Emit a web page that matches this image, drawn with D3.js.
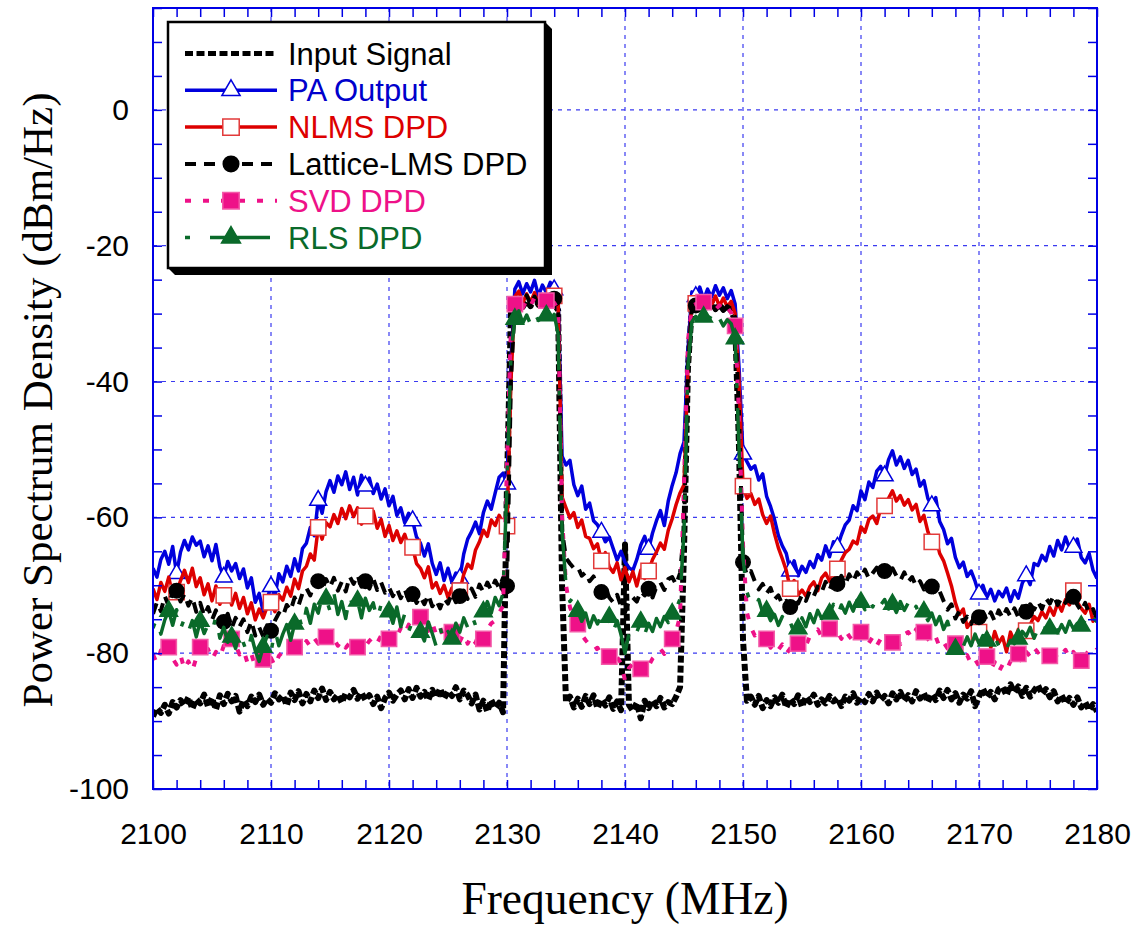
<!DOCTYPE html>
<html>
<head>
<meta charset="utf-8">
<script src="https://cdn.jsdelivr.net/npm/d3@7"></script>
<style>
  body { margin: 0; background: #fff; }
  svg { display: block; }
</style>
</head>
<body>
<svg id="chart" width="1141" height="928"></svg>
<script>
// Spectrum samples every 1/3 MHz from 2100 to 2180 MHz (241 points per trace), in dBm/Hz.
const freqStart = 2100, freqEnd = 2180, samplesPerMHz = 3;

const inputSignal = [
  -89.3,-88.1,-88.8, -87.6,-88.9,-87.2, -88.0,-86.9,-87.7, -86.5,-88.2,-86.8, -87.4,-86.1,-87.9,
  -86.6,-88.3,-86.2, -87.5,-86.0,-87.1, -86.3,-88.6,-86.9, -87.8,-86.4,-87.2, -86.1,-87.6,-86.7,
  -87.3,-85.9,-86.8, -86.2,-87.7,-85.8, -86.9,-85.6,-87.4, -86.0,-87.1,-85.5, -86.6,-85.2,-86.9,
  -85.7,-86.8,-86.1, -87.3,-85.9,-86.5, -85.4,-86.7,-85.8, -86.9,-86.2,-87.5, -86.4,-88.1,-86.6,
  -85.8,-87.0,-86.1, -85.5,-86.8,-85.3, -86.6,-85.1,-86.4, -85.7,-86.9,-85.4, -86.5,-85.2,-86.7,
  -85.6,-86.3,-85.0, -86.8,-85.5,-86.2, -87.4,-86.1,-88.3, -87.0,-88.6,-86.9, -88.1,-87.3,-88.7,
  -55.0,-30.0,-28.4, -27.8,-29.0,-28.1, -28.9,-27.6,-28.7, -28.0,-29.1,-28.3, -28.6,-29.5,-70.0,
  -87.2,-86.4,-88.0, -86.7,-87.9,-86.3, -87.5,-86.2,-88.1, -86.8,-87.7,-86.5, -88.2,-87.1,-88.4,
  -64.0,-87.6,-88.5, -87.3,-89.6,-87.0, -88.1,-86.9,-87.8, -86.6,-88.0,-87.2, -87.5,-86.4,-85.0,
  -65.0,-38.0,-29.0, -28.4,-29.2,-28.6, -29.0,-28.3,-29.3, -28.7,-29.4,-28.9, -29.6,-31.0,-50.0,
  -78.0,-87.0,-86.4, -87.6,-86.3,-88.1, -86.9,-87.8,-86.5, -87.3,-86.1,-88.0, -86.7,-87.5,-86.2,
  -87.9,-86.4,-87.2, -86.1,-87.6,-86.8, -87.4,-86.3,-87.1, -86.6,-87.8,-86.4, -87.0,-85.9,-87.3,
  -86.5,-87.2,-86.0, -87.1,-85.8,-86.9, -86.3,-87.4,-85.9, -86.8,-85.7,-87.0, -86.2,-87.1,-85.6,
  -86.7,-85.9,-87.2, -86.0,-86.9,-85.5, -86.6,-85.4,-86.8, -85.9,-87.3,-86.1, -86.7,-85.6,-87.8,
  -86.4,-85.2,-86.5, -85.7,-86.8,-85.3, -85.0,-86.2,-84.6, -85.8,-84.9,-86.3, -85.1,-86.4,-85.5,
  -84.7,-86.0,-85.3, -86.5,-85.6,-87.1, -86.2,-87.4,-86.6, -87.6,-86.5,-88.0, -87.2,-88.4,-87.5,
  -88.6
];

const paOutput = [
  -67.5,-68.8,-66.2, -65.0,-66.9,-64.3, -68.3,-65.1,-63.4, -64.8,-62.9,-64.1, -63.5,-65.8,-64.2,
  -66.4,-64.0,-67.3, -68.8,-66.5,-67.9, -66.8,-69.0,-67.6, -70.4,-68.9,-72.5, -71.2,-73.9,-72.0,
  -70.2,-71.6,-68.3, -69.5,-67.2,-68.7, -66.1,-67.9,-64.6, -63.8,-61.5,-62.7, -57.5,-59.4,-56.2,
  -54.6,-56.3,-53.9, -55.2,-53.3,-55.9, -54.1,-56.7,-53.8, -55.4,-54.2,-56.5, -55.1,-57.3,-55.8,
  -58.3,-56.9,-59.7, -58.6,-60.8,-59.4, -60.5,-62.9,-63.8, -65.7,-63.9,-66.8, -68.4,-66.7,-69.3,
  -67.5,-69.6,-68.2, -69.0,-65.4,-63.2, -62.1,-60.7,-62.4, -59.3,-57.6,-58.8, -56.4,-54.1,-53.5,
  -55.1,-37.0,-26.4, -25.3,-27.1,-25.6, -26.8,-25.1,-27.4, -25.8,-26.9,-25.4, -26.5,-27.6,-51.0,
  -52.3,-51.6,-55.2, -56.8,-55.4,-58.8, -57.9,-60.5,-61.1, -62.2,-63.6,-62.9, -64.6,-66.3,-65.0,
  -66.6,-67.4,-67.8, -66.2,-64.1,-62.8, -64.7,-62.3,-60.5, -59.0,-61.2,-57.6, -55.3,-53.4,-50.6,
  -48.9,-35.5,-26.8, -27.5,-26.1,-27.9, -26.4,-27.6,-25.9, -27.3,-26.2,-27.8, -26.6,-28.6,-38.0,
  -50.7,-51.8,-52.9, -52.4,-54.5,-53.6, -56.9,-58.4,-60.3, -62.7,-64.2,-65.3, -67.9,-66.4,-68.6,
  -67.2,-68.1,-66.5, -67.4,-65.5,-66.3, -64.2,-65.8,-63.6, -64.4,-62.6,-61.1, -60.4,-58.3,-59.0,
  -56.1,-57.4,-54.8, -55.6,-53.2,-52.5, -53.9,-51.5,-50.2, -52.3,-51.1,-52.8, -51.6,-53.7,-52.9,
  -55.4,-54.6,-57.2, -58.3,-57.1,-60.6, -61.8,-63.9,-63.1, -65.9,-67.4,-66.6, -68.7,-67.9,-69.4,
  -71.3,-70.0,-71.8, -70.6,-72.3,-70.9, -71.7,-70.4,-72.4, -70.8,-71.9,-69.7, -68.6,-69.9,-66.8,
  -67.1,-65.6,-66.4, -64.3,-65.7,-63.4, -64.8,-62.9,-64.5, -64.4,-63.2,-65.9, -66.7,-65.3,-67.8,
  -69.0
];

const nlmsDpd = [
  -70.5,-72.1,-69.6, -70.9,-68.8,-71.5, -71.0,-69.3,-67.8, -69.6,-67.5,-70.2, -68.9,-71.4,-69.8,
  -72.3,-70.1,-72.8, -71.5,-70.6,-72.9, -71.2,-73.4,-71.8, -74.2,-72.6,-75.1, -73.5,-74.8,-73.2,
  -72.5,-73.9,-71.4, -72.2,-70.3,-71.6, -69.1,-70.5,-67.9, -67.2,-65.4,-66.3, -61.5,-63.2,-60.8,
  -61.4,-59.6,-60.9, -58.7,-60.2,-58.3, -59.9,-58.6,-61.0, -59.8,-60.7,-59.1, -61.6,-60.3,-62.8,
  -61.2,-63.4,-62.0, -63.7,-62.5,-64.3, -64.4,-66.8,-67.5, -68.9,-67.3,-70.4, -69.6,-71.2,-70.0,
  -71.8,-70.4,-72.3, -70.8,-68.4,-66.9, -67.5,-64.8,-63.6, -61.9,-62.8,-60.4, -61.2,-59.7,-60.8,
  -61.3,-40.0,-27.5, -26.7,-28.4,-27.1, -28.3,-26.9,-28.6, -27.2,-28.5,-27.0, -27.4,-28.3,-57.0,
  -58.6,-60.1,-59.3, -61.5,-60.4,-62.8, -63.1,-64.6,-63.9, -66.4,-65.2,-67.3, -68.1,-66.7,-69.2,
  -67.4,-69.5,-68.0, -70.1,-67.8,-69.0, -67.9,-66.2,-65.1, -63.8,-64.7,-61.9, -60.2,-58.1,-56.4,
  -55.2,-38.0,-28.0, -28.5,-27.6,-29.1, -27.9,-28.8,-27.4, -28.9,-27.7,-29.0, -28.2,-30.0,-40.0,
  -55.4,-57.2,-56.5, -58.1,-57.3,-59.6, -60.9,-59.8,-62.4, -64.5,-66.1,-67.8, -70.5,-69.3,-71.4,
  -70.7,-71.6,-70.2, -69.5,-70.8,-68.9, -68.2,-69.4,-67.7, -67.6,-66.3,-65.2, -64.7,-63.5,-63.9,
  -61.4,-62.2,-60.3, -59.8,-60.9,-58.7, -58.3,-57.2,-56.1, -57.6,-56.8,-58.2, -57.4,-58.9,-58.1,
  -60.6,-59.7,-62.1, -63.6,-62.9,-65.3, -66.4,-68.2,-70.1, -72.6,-74.3,-73.5, -76.2,-75.4,-77.3,
  -76.9,-78.1,-77.0, -79.2,-76.8,-78.5, -77.6,-79.8,-76.9, -78.3,-76.5,-77.8, -76.7,-75.8,-74.6,
  -75.2,-73.9,-74.8, -73.3,-74.4,-72.6, -73.8,-72.1,-72.9, -70.8,-72.5,-73.4, -74.1,-72.8,-75.3,
  -74.2
];

const latticeLmsDpd = [
  -74.2,-72.5,-73.8, -71.6,-73.1,-70.9, -70.8,-72.4,-71.3, -73.0,-71.8,-73.9, -72.6,-74.5,-73.2,
  -75.1,-73.7,-76.0, -75.4,-74.2,-76.3, -74.8,-76.1,-75.0, -76.9,-75.3,-77.4, -76.2,-77.5,-75.9,
  -76.7,-75.2,-74.1, -74.6,-72.9,-73.7, -71.8,-73.0,-71.2, -70.4,-71.5,-69.8, -69.4,-70.6,-69.1,
  -70.3,-68.9,-70.8, -69.5,-70.9,-68.7, -69.8,-68.5,-70.2, -69.4,-70.5,-69.0, -70.7,-69.6,-71.1,
  -70.3,-71.6,-70.5, -71.9,-70.6,-72.2, -71.3,-72.6,-71.7, -72.8,-71.4,-73.1, -72.2,-73.4,-71.9,
  -72.7,-71.2,-72.5, -71.6,-70.8,-72.0, -70.5,-71.7,-69.9, -71.0,-69.6,-70.7, -69.3,-70.4,-68.9,
  -70.1,-40.0,-28.4, -27.6,-28.9,-27.3, -28.7,-27.5,-28.8, -27.6,-28.9,-27.9, -27.8,-29.0,-62.0,
  -66.0,-66.8,-67.5, -67.3,-68.6,-68.1, -69.4,-68.7,-70.2, -71.0,-70.3,-71.8, -72.5,-71.4,-73.1,
  -74.0,-72.3,-71.8, -72.4,-70.9,-71.5, -70.5,-71.8,-70.2, -69.6,-70.7,-69.1, -68.8,-69.9,-68.2,
  -62.0,-38.0,-29.3, -28.8,-29.4,-28.6, -29.2,-28.4,-29.5, -28.7,-29.6,-28.9, -29.3,-30.5,-45.0,
  -66.6,-68.5,-67.9, -69.4,-70.6,-69.8, -71.2,-70.4,-72.1, -71.5,-72.8,-72.3, -73.2,-72.1,-72.7,
  -71.4,-72.3,-70.8, -71.6,-70.2,-71.0, -69.5,-70.7,-69.2, -69.8,-68.6,-69.9, -68.4,-69.5,-68.1,
  -68.9,-67.7,-69.0, -68.2,-67.4,-68.8, -67.9,-68.7,-67.5, -68.6,-69.3,-68.1, -69.5,-68.8,-70.1,
  -69.4,-70.6,-69.8, -70.2,-71.5,-70.9, -72.3,-73.6,-72.8, -74.9,-73.8,-75.4, -74.6,-75.7,-74.3,
  -74.7,-73.9,-75.2, -74.0,-75.3,-73.7, -74.8,-73.5,-74.6, -73.4,-74.7,-73.1, -73.9,-72.8,-73.6,
  -72.4,-73.5,-71.9, -72.7,-71.5,-72.9, -71.8,-72.6,-71.3, -71.7,-72.9,-73.8, -72.6,-74.1,-73.5,
  -75.0
];

const svdDpd = [
  -80.2,-81.5,-79.6, -80.4,-79.1,-80.8, -81.7,-80.3,-82.4, -81.2,-82.6,-80.7, -79.1,-80.5,-79.4,
  -80.9,-79.8,-80.6, -78.9,-79.6,-77.9, -78.8,-80.2,-79.5, -81.4,-80.1,-82.0, -81.3,-80.9,-81.6,
  -80.7,-81.9,-80.4, -79.8,-80.6,-79.3, -79.1,-78.4,-79.7, -78.2,-79.0,-77.8, -78.6,-77.3,-77.6,
  -78.4,-77.9,-78.9, -78.1,-79.2,-78.5, -79.5,-79.1,-78.3, -79.0,-78.2,-77.6, -78.5,-77.4,-78.1,
  -77.9,-76.8,-77.5, -76.3,-77.2,-75.8, -76.5,-75.4,-74.7, -75.9,-76.7,-75.5, -77.3,-76.2,-77.8,
  -76.6,-76.9,-77.7, -78.3,-77.1,-78.6, -77.4,-78.5,-76.9, -77.9,-76.5,-75.6, -75.2,-74.1,-73.0,
  -52.0,-32.0,-28.6, -27.9,-29.2,-28.0, -28.8,-27.7,-29.0, -28.3,-28.1,-28.9, -28.4,-29.4,-60.0,
  -70.0,-73.2,-74.8, -75.7,-77.3,-78.1, -78.8,-79.6,-79.2, -80.3,-79.7,-80.5, -81.2,-80.6,-81.5,
  -84.0,-82.2,-81.6, -82.7,-82.3,-81.4, -81.9,-80.8,-80.2, -79.4,-80.1,-78.6, -77.9,-76.8,-74.5,
  -55.0,-34.0,-28.9, -28.6,-29.3,-28.3, -29.0,-28.5,-29.4, -28.8,-29.6,-29.1, -29.9,-31.8,-45.0,
  -64.0,-74.0,-76.2, -77.4,-76.5,-78.1, -77.9,-79.2,-78.4, -79.5,-78.7,-80.1, -79.3,-78.2,-78.6,
  -77.8,-78.9,-77.5, -77.1,-76.5,-77.6, -77.0,-76.4,-77.2, -76.8,-77.9,-76.6, -77.5,-78.2,-76.9,
  -76.9,-77.8,-78.5, -77.6,-78.9,-77.9, -78.6,-77.5,-78.4, -77.8,-78.7,-77.2, -76.9,-77.8,-76.5,
  -77.4,-76.9,-77.9, -78.5,-77.6,-79.1, -78.4,-79.3,-78.8, -78.6,-79.7,-80.8, -80.3,-81.6,-80.9,
  -81.9,-81.2,-80.5, -82.4,-81.3,-82.8, -81.7,-82.5,-81.2, -80.6,-80.1,-81.4, -79.8,-80.5,-79.2,
  -79.9,-78.8,-80.3, -80.4,-79.6,-80.9, -80.2,-79.5,-80.7, -79.8,-80.6,-81.1, -80.3,-79.6,-80.1,
  -79.4
];

const rlsDpd = [
  -76.3,-74.8,-77.2, -75.1,-73.8,-75.9, -73.6,-76.4,-74.9, -76.8,-75.2,-77.6, -75.3,-77.1,-75.8,
  -76.9,-74.6,-77.8, -76.2,-78.4,-77.6, -79.3,-76.8,-78.5, -80.1,-77.4,-79.6, -81.2,-79.1,-77.5,
  -79.8,-76.6,-78.9, -77.2,-75.8,-78.1, -75.7,-74.3,-76.5, -73.4,-75.6,-72.8, -74.1,-71.6,-72.0,
  -73.8,-71.2,-74.3, -72.4,-74.9,-71.5, -73.6,-72.3,-74.8, -71.9,-73.7,-72.6, -75.1,-72.8,-74.4,
  -73.9,-75.6,-73.2, -76.1,-74.2,-76.8, -75.3,-77.5,-76.9, -78.2,-75.4,-77.1, -79.0,-76.3,-78.4,
  -76.8,-77.9,-75.6, -76.9,-74.8,-76.2, -74.3,-75.9,-73.6, -73.9,-72.4,-74.1, -71.8,-73.0,-71.2,
  -55.0,-36.0,-30.8, -29.6,-31.4,-30.2, -31.6,-29.9,-31.0, -30.6,-30.3,-31.2, -30.1,-33.0,-62.0,
  -70.0,-72.4,-71.6, -73.8,-75.3,-74.1, -76.2,-74.5,-75.7, -74.4,-76.0,-74.7, -76.8,-75.2,-77.3,
  -80.0,-77.1,-75.8, -76.9,-75.4,-77.2, -75.6,-76.8,-74.9, -76.1,-74.6,-75.5, -74.2,-73.5,-72.0,
  -62.0,-38.0,-31.2, -30.4,-31.5,-30.5, -31.3,-30.2,-31.6, -30.7,-31.8,-30.9, -31.5,-33.7,-50.0,
  -66.0,-71.0,-72.6, -73.4,-72.1,-74.0, -73.8,-75.2,-74.3, -75.9,-74.6,-76.3, -75.4,-77.0,-76.4,
  -74.8,-76.1,-74.2, -75.5,-73.7,-74.9, -73.4,-74.2,-72.8, -74.6,-72.9,-74.1, -72.5,-73.8,-72.2,
  -72.5,-73.6,-71.8, -73.2,-71.6,-72.9, -72.1,-73.5,-72.8, -74.0,-72.4,-73.7, -72.6,-74.3,-73.1,
  -74.5,-73.9,-75.2, -74.1,-75.8,-74.6, -76.5,-75.3,-77.4, -79.4,-77.8,-79.0, -77.6,-78.9,-77.2,
  -78.6,-77.4,-78.2, -79.1,-77.6,-78.9, -77.9,-79.3,-78.1, -78.6,-77.9,-76.8, -77.5,-76.2,-77.8,
  -76.4,-77.6,-75.9, -76.4,-75.5,-77.0, -75.8,-76.9,-75.3, -76.4,-75.6,-76.0, -75.2,-76.3,-74.8,
  -75.4
];

const xTickValues = [2100, 2110, 2120, 2130, 2140, 2150, 2160, 2170, 2180];
const yTickValues = [-100, -80, -60, -40, -20, 0];
const legendLabels = ["Input Signal", "PA Output", "NLMS DPD", "Lattice-LMS DPD", "SVD DPD", "RLS DPD"];

const frequencies = d3.range((freqEnd - freqStart) * samplesPerMHz + 1)
  .map(i => freqStart + i / samplesPerMHz);

// Per-trace drawing styles; markers sit on every `step`-th sample starting at `start`.
const traces = [
  { label: legendLabels[0], values: inputSignal, color: "#000000", text: "#000000", width: 6, dash: "7,3", marker: null },
  { label: legendLabels[1], values: paOutput, color: "#0000dd", text: "#0000cc", width: 3.5, dash: null,
    marker: { type: d3.symbolTriangle, size: 125, fill: "#ffffff", stroke: "#0000dd", start: 6, step: 12 } },
  { label: legendLabels[2], values: nlmsDpd, color: "#dd0000", text: "#dd0000", width: 3.5, dash: null,
    marker: { type: d3.symbolSquare, size: 235, fill: "#ffffff", stroke: "#e23a3a", start: 6, step: 12 } },
  { label: legendLabels[3], values: latticeLmsDpd, color: "#000000", text: "#000000", width: 4, dash: "11,8",
    marker: { type: d3.symbolCircle, size: 165, fill: "#000000", stroke: "#000000", start: 6, step: 12 } },
  { label: legendLabels[4], values: svdDpd, color: "#ee1188", text: "#ee1188", width: 4, dash: "6,12",
    marker: { type: d3.symbolSquare, size: 235, fill: "#ee1188", stroke: "#f35aa8", start: 4, step: 8 } },
  { label: legendLabels[5], values: rlsDpd, color: "#0a6a2a", text: "#0a6a2a", width: 3.5, dash: "5,20,60,20",
    marker: { type: d3.symbolTriangle, size: 135, fill: "#0a6a2a", stroke: "#0a6a2a", start: 4, step: 8 } }
];

const svg = d3.select("#chart");
const plot = { left: 153, right: 1097, top: 8, bottom: 789 };

const x = d3.scaleLinear().domain([2100, 2180]).range([plot.left, plot.right]);
const y = d3.scaleLinear().domain([-100, 15]).range([plot.bottom, plot.top]);

const frameBlue = "#0000e6";
const gridBlue = "#3a3af0";

// Dotted grid
const grid = svg.append("g");
grid.selectAll("line.vg")
  .data(xTickValues.filter(v => v > 2100 && v < 2180))
  .join("line")
  .attr("x1", d => x(d)).attr("x2", d => x(d))
  .attr("y1", plot.top).attr("y2", plot.bottom)
  .attr("stroke", gridBlue).attr("stroke-width", 1.2)
  .attr("stroke-dasharray", "4,5");
grid.selectAll("line.hg")
  .data(yTickValues.filter(v => v > -100))
  .join("line")
  .attr("x1", plot.left).attr("x2", plot.right)
  .attr("y1", d => y(d)).attr("y2", d => y(d))
  .attr("stroke", gridBlue).attr("stroke-width", 1.2)
  .attr("stroke-dasharray", "4,5");

// Traces
svg.append("defs").append("clipPath").attr("id", "plotClip")
  .append("rect")
  .attr("x", plot.left).attr("y", plot.top)
  .attr("width", plot.right - plot.left).attr("height", plot.bottom - plot.top);

const line = d3.line()
  .x(d => x(d[0]))
  .y(d => y(d[1]));

const dataLayer = svg.append("g").attr("clip-path", "url(#plotClip)");

traces.forEach(t => {
  const pts = frequencies.map((f, i) => [f, t.values[i]]);
  dataLayer.append("path")
    .attr("d", line(pts))
    .attr("fill", "none")
    .attr("stroke", t.color)
    .attr("stroke-width", t.width)
    .attr("stroke-linejoin", "round")
    .attr("stroke-dasharray", t.dash);
  if (t.marker) {
    const m = t.marker;
    const sym = d3.symbol().type(m.type).size(m.size);
    dataLayer.append("g").selectAll("path")
      .data(pts.filter((p, i) => i >= m.start && (i - m.start) % m.step === 0))
      .join("path")
      .attr("d", sym)
      .attr("transform", d => `translate(${x(d[0])},${y(d[1])})`)
      .attr("fill", m.fill)
      .attr("stroke", m.stroke)
      .attr("stroke-width", 1.5);
  }
});

// Frame and inward ticks
const axes = svg.append("g");
function styleAxis(g) {
  g.select(".domain").remove();
  g.selectAll(".tick line").attr("stroke", frameBlue).attr("stroke-width", 1.5);
}
const minorX = d3.range(2100, 2181, 2);
const minorY = d3.range(-100, 16, 5);

axes.append("g").attr("transform", `translate(0,${plot.bottom})`)
  .call(d3.axisBottom(x).tickValues(minorX).tickSize(-9).tickFormat(""))
  .call(styleAxis);
axes.append("g").attr("transform", `translate(0,${plot.top})`)
  .call(d3.axisTop(x).tickValues(minorX).tickSize(-9).tickFormat(""))
  .call(styleAxis);
axes.append("g").attr("transform", `translate(${plot.left},0)`)
  .call(d3.axisLeft(y).tickValues(minorY).tickSize(-9).tickFormat(""))
  .call(styleAxis);
axes.append("g").attr("transform", `translate(${plot.right},0)`)
  .call(d3.axisRight(y).tickValues(minorY).tickSize(-9).tickFormat(""))
  .call(styleAxis);

axes.append("rect")
  .attr("x", plot.left).attr("y", plot.top)
  .attr("width", plot.right - plot.left).attr("height", plot.bottom - plot.top)
  .attr("fill", "none").attr("stroke", frameBlue).attr("stroke-width", 2);

// Tick labels (plain hyphen for negatives)
const labelFont = "'Liberation Sans', Arial, sans-serif";
const plainNumber = d => String(d);
axes.append("g").attr("transform", `translate(0,${plot.bottom})`)
  .call(d3.axisBottom(x).tickValues(xTickValues).tickSize(0).tickPadding(34).tickFormat(plainNumber))
  .call(g => g.select(".domain").remove())
  .call(g => g.selectAll("text").attr("font-family", labelFont).attr("font-size", 30).attr("fill", "#000"));
axes.append("g").attr("transform", `translate(${plot.left},0)`)
  .call(d3.axisLeft(y).tickValues(yTickValues).tickSize(0).tickPadding(24).tickFormat(plainNumber))
  .call(g => g.select(".domain").remove())
  .call(g => g.selectAll("text").attr("font-family", labelFont).attr("font-size", 30).attr("fill", "#000"));

// Axis titles
const titleFont = "'Liberation Serif', 'Times New Roman', serif";
svg.append("text")
  .attr("x", 625).attr("y", 914)
  .attr("text-anchor", "middle")
  .attr("font-family", titleFont).attr("font-size", 45.5)
  .text("Frequency (MHz)");
svg.append("text")
  .attr("transform", "translate(52,400) rotate(-90)")
  .attr("text-anchor", "middle")
  .attr("font-family", titleFont).attr("font-size", 43)
  .text("Power Spectrum Density (dBm/Hz)");

// Legend with drop shadow
const box = { l: 168, t: 22, r: 545, b: 268 }, sh = 7;
const legend = svg.append("g");
legend.append("polygon")
  .attr("points", [[box.r, box.t], [box.r + sh, box.t + sh], [box.r + sh, box.b + sh],
                   [box.l + sh, box.b + sh], [box.l, box.b]].map(p => p.join(",")).join(" "))
  .attr("fill", "#000");
legend.append("rect")
  .attr("x", box.l).attr("y", box.t)
  .attr("width", box.r - box.l).attr("height", box.b - box.t)
  .attr("fill", "#fff").attr("stroke", "#000").attr("stroke-width", 2.5);

const rowY = d3.scaleLinear().domain([0, 5]).range([53.5, 237.5]);
const lx1 = 185, lx2 = 277, lmx = 231, ltx = 288;

traces.forEach((t, i) => {
  const ry = rowY(i);
  const row = legend.append("g");
  row.append("line")
    .attr("x1", lx1).attr("x2", lx2).attr("y1", ry).attr("y2", ry)
    .attr("stroke", t.color).attr("stroke-width", i === 0 ? 5 : t.width)
    .attr("stroke-dasharray", i === 0 ? "8,3.5" : t.dash);
  if (t.marker) {
    const m = t.marker;
    row.append("path")
      .attr("d", d3.symbol().type(m.type).size(m.size * 1.15)())
      .attr("transform", `translate(${lmx},${ry})`)
      .attr("fill", m.fill).attr("stroke", m.stroke).attr("stroke-width", 1.5);
  }
  row.append("text")
    .attr("x", ltx).attr("y", ry + 11)
    .attr("font-family", labelFont).attr("font-size", 31)
    .attr("fill", t.text)
    .text(t.label);
});
</script>
</body>
</html>
